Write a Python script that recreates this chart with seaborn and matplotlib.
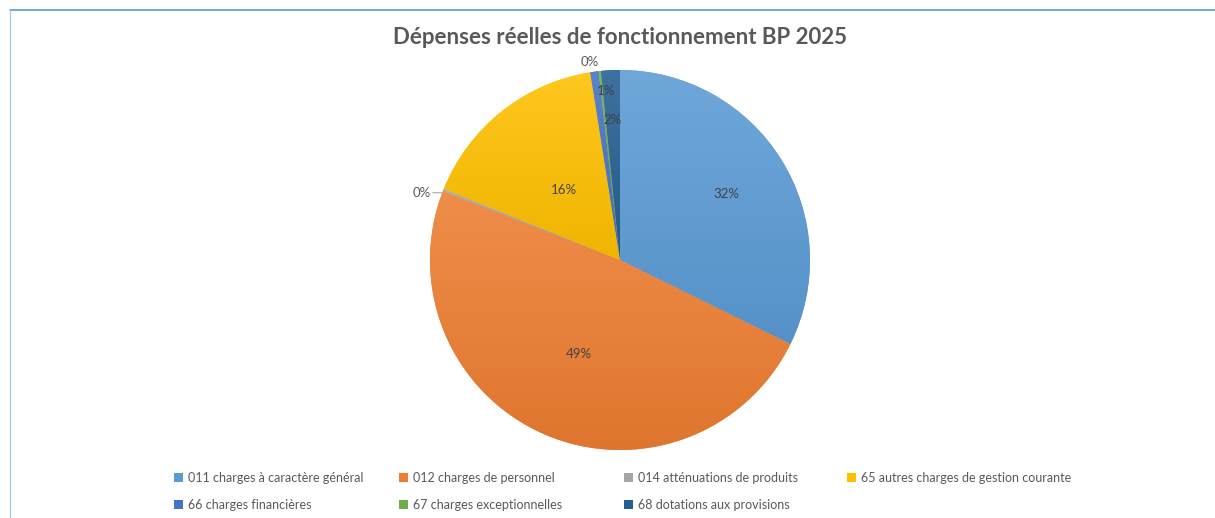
import numpy as np
import matplotlib
matplotlib.use("Agg")
import matplotlib.pyplot as plt
import matplotlib.colors as mcolors
from matplotlib.patches import Patch
from matplotlib.lines import Line2D
import seaborn as sns

# Data
categories = ['011 charges à caractère général', '012 charges de personnel',
              '014 atténuations de produits', '65 autres charges de gestion courante',
              '66 charges financières', '67 charges exceptionnelles',
              '68 dotations aux provisions']
shares = [32.3, 48.6, 0.2, 16.4, 0.7, 0.2, 1.6]
title = 'Dépenses réelles de fonctionnement BP 2025'

# Office-like palette
colors = sns.color_palette(['#5B9BD5', '#ED7D31', '#A5A5A5', '#FFC000',
                            '#4472C4', '#70AD47', '#255E91'])

sns.set_theme(style='white')
plt.rcParams['font.family'] = ['Lato', 'DejaVu Sans']
text_color = '#595959'

fig = plt.figure(figsize=(12.15, 5.18), dpi=100)
W, H = 1215, 518
cx, cy, r = 620, 260, 190
ax = fig.add_axes([(cx - r) / W, (H - cy - r) / H, 2 * r / W, 2 * r / H])

wedges, _ = ax.pie(shares, colors=colors, startangle=90, counterclock=False,
                   radius=1, wedgeprops=dict(linewidth=0))
ax.set_aspect('equal')
ax.axis('off')

# gradient fill, lighter at the top of each slice
for w, c in zip(wedges, colors):
    verts = w.get_patch_transform().transform(w.get_path().vertices)
    x0, y0 = verts.min(axis=0)
    x1, y1 = verts.max(axis=0)
    base = np.array(mcolors.to_rgb(c))
    light = base + (1 - base) * 0.12
    dark = base * 0.94
    t = np.linspace(0, 1, 64)[:, None]
    grad = light * (1 - t) + dark * t
    img = np.repeat(grad[:, None, :], 2, axis=1)
    im = ax.imshow(img, extent=[x0, x1, y0, y1], origin='upper',
                   aspect='auto', zorder=2, interpolation='bilinear')
    im.set_clip_path(w)
ax.set_xlim(-1, 1)
ax.set_ylim(-1, 1)

# data labels (distance from centre, alignment)
label_dist = [0.66, 0.54, 1.07, 0.47, 0.9, 1.05, 0.74]
label_ha = ['center', 'center', 'right', 'center', 'left', 'right', 'center']
for w, s, d, ha in zip(wedges, shares, label_dist, label_ha):
    ang = np.deg2rad((w.theta1 + w.theta2) / 2)
    x, y = d * np.cos(ang), d * np.sin(ang)
    lbl = f'{s:.0f}%'
    if d > 1 and y < 0.9:
        ex, ey = 0.995 * np.cos(ang), 0.995 * np.sin(ang)
        y = y - 0.04
        ax.plot([ex, x + 0.06, x + 0.01], [ey, y, y], color='#A6A6A6', lw=0.8,
                zorder=5, clip_on=False)
    clr = text_color if d > 1 else '#404040'
    ax.text(x, y, lbl, ha=ha, va='center', fontsize=9.5, color=clr, zorder=5)

fig.text(cx / W, 1 - 38 / H, title, ha='center', va='center', fontsize=16,
         fontweight='bold', color=text_color)

# legend laid out like Excel: 4 equal columns, 2 rows
handles = [Patch(facecolor=c, edgecolor='none') for c in colors]
col_x = [174, 399, 624, 847]
for j in range(4):
    idx = [i for i in (j, j + 4) if i < len(categories)]
    leg = fig.legend([handles[i] for i in idx], [categories[i] for i in idx],
                     loc='upper left', bbox_to_anchor=(col_x[j] / W, 1 - 472 / H),
                     frameon=False, fontsize=9, handlelength=0.7,
                     handleheight=0.7, handletextpad=0.4, labelspacing=1.2,
                     borderaxespad=0, borderpad=0)
    for t in leg.get_texts():
        t.set_color(text_color)

# chart area border
fig.add_artist(Line2D([10 / W, 1], [1 - 10 / H, 1 - 10 / H], color='#5B9BD5', lw=1.2))
fig.add_artist(Line2D([10 / W, 10 / W], [0, 1 - 10 / H], color='#9DC3E6', lw=0.8))

fig.savefig('out.png', dpi=100, facecolor='white')
